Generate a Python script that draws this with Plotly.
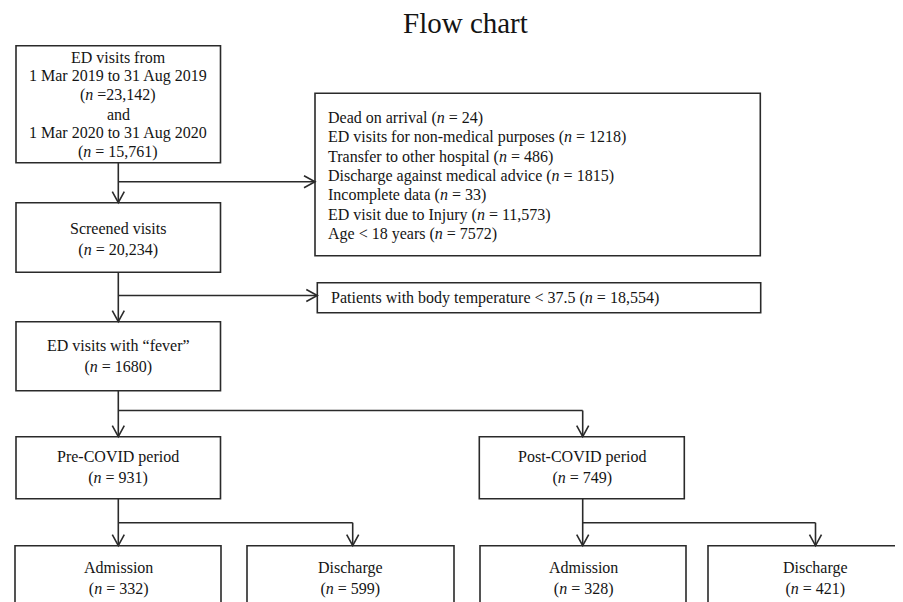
import plotly.graph_objects as go

# ---- data ----
title_text = "Flow chart"
source_lines = ["ED visits from", "1 Mar 2019 to 31 Aug 2019", "(<i>n</i> =23,142)", "and",
                "1 Mar 2020 to 31 Aug 2020", "(<i>n</i> = 15,761)"]
exclusion_labels = ["Dead on arrival", "ED visits for non-medical purposes", "Transfer to other hospital",
                    "Discharge against medical advice", "Incomplete data", "ED visit due to Injury",
                    "Age < 18 years"]
exclusion_counts = ["24", "1218", "486", "1815", "33", "11,573", "7572"]
temp_label = "Patients with body temperature < 37.5"
temp_count = "18,554"
stage_labels = ["Screened visits", "ED visits with \u201cfever\u201d", "Pre-COVID period", "Post-COVID period",
                "Admission", "Discharge", "Admission", "Discharge"]
stage_counts = ["20,234", "1680", "931", "749", "332", "599", "328", "421"]

# ---- layout geometry (pixels) ----
W, H = 903, 602
OFF = 8  # page body margin compensation
FONT = "Liberation Serif, Times New Roman, serif"
LC = "#2a2a2a"
LW = 1.6

# box rectangles: x0, x1, y0, y1
box_src = (16, 220.5, 45.7, 162.7)
box_excl = (315, 760.3, 93.3, 255.7)
box_temp = (317.3, 760.7, 282.7, 312.7)
stage_boxes = [
    (16, 220.5, 202.7, 272.3),
    (16, 220.5, 321.7, 390.7),
    (16, 220.5, 436.7, 498.7),
    (479.3, 684.3, 436.7, 498.7),
    (15, 221, 545.7, 640),
    (247, 454, 545.7, 640),
    (480, 686, 545.7, 640),
    (708, 923, 545.7, 640),
]

shapes = []
annotations = []


def rect(b):
    shapes.append(dict(type="rect", xref="x", yref="y", x0=b[0], x1=b[1], y0=b[2], y1=b[3],
                       line=dict(color=LC, width=LW), fillcolor="white", layer="above"))


def line(x0, y0, x1, y1):
    shapes.append(dict(type="line", xref="x", yref="y", x0=x0, y0=y0, x1=x1, y1=y1,
                       line=dict(color=LC, width=LW)))


def head_down(x, y):
    shapes.append(dict(type="path", xref="x", yref="y",
                       path=f"M {x-6},{y-11} L {x},{y} L {x+6},{y-11}",
                       line=dict(color=LC, width=LW)))


def head_right(x, y):
    shapes.append(dict(type="path", xref="x", yref="y",
                       path=f"M {x-11},{y-6} L {x},{y} L {x-11},{y+6}",
                       line=dict(color=LC, width=LW)))


def text(x, y, s, size=16, anchor="center", align="center"):
    annotations.append(dict(x=x, y=y, xref="x", yref="y", text=s, showarrow=False,
                            xanchor=anchor, yanchor="middle", align=align,
                            font=dict(family=FONT, size=size, color="#141414")))


# boxes
rect(box_src)
rect(box_excl)
rect(box_temp)
for b in stage_boxes:
    rect(b)

# connectors
cx = 118.3
line(cx, 162.7, cx, 202.7); head_down(cx, 202.7)
line(cx, 181.7, 315, 181.7); head_right(315, 181.7)
line(cx, 272.3, cx, 321.7); head_down(cx, 321.7)
line(cx, 295.5, 317.3, 295.5); head_right(317.3, 295.5)
line(cx, 390.7, cx, 436.7); head_down(cx, 436.7)
line(cx, 410.5, 582.7, 410.5); line(582.7, 410.5, 582.7, 436.7); head_down(582.7, 436.7)
for px, dx in [(cx, 352.7), (582.7, 815.5)]:
    line(px, 498.7, px, 545.7); head_down(px, 545.7)
    line(px, 522.7, dx, 522.7); line(dx, 522.7, dx, 545.7); head_down(dx, 545.7)

# texts
src_cx = (box_src[0] + box_src[1]) / 2
for i, s in enumerate(source_lines):
    text(src_cx, 57 + 19 * i, s)
excl_lines = [f"{l} (<i>n</i> = {c})" for l, c in zip(exclusion_labels, exclusion_counts)]
for i, s in enumerate(excl_lines):
    text(326, 118 + 19.35 * i, s, anchor="left", align="left")
text(329, 297.7, f"{temp_label} (<i>n</i> = {temp_count})", anchor="left", align="left")
centers_y = [239.5, 356, 467.7, 467.7, 578.3, 578.3, 578.3, 578.3]
for b, lab, cnt, ty in zip(stage_boxes, stage_labels, stage_counts, centers_y):
    bx = (b[0] + b[1]) / 2
    text(bx, ty, f"{lab}<br>(<i>n</i> = {cnt})")

text(465, 23, title_text, size=29)

fig = go.Figure()
fig.update_layout(
    width=W, height=H, margin=dict(l=0, r=0, t=0, b=0),
    paper_bgcolor="white", plot_bgcolor="white",
    xaxis=dict(range=[OFF, W + OFF], visible=False, fixedrange=True),
    yaxis=dict(range=[H + OFF, OFF], visible=False, fixedrange=True),
    shapes=shapes, annotations=annotations, showlegend=False,
)
fig.write_html("out.html")
